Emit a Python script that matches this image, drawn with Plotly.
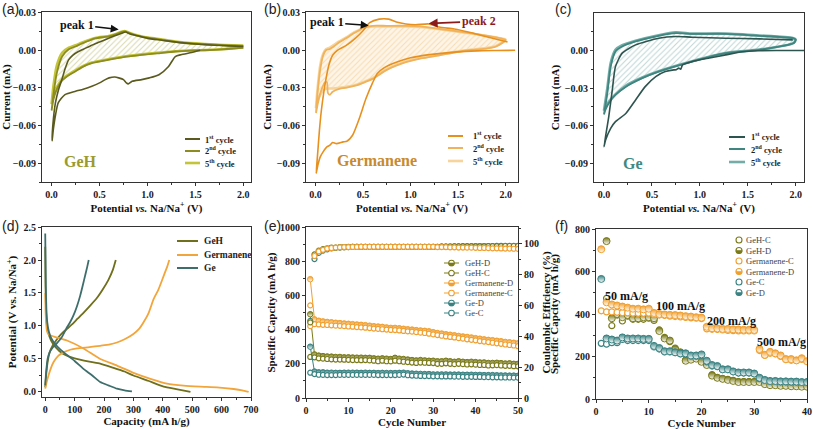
import math
import plotly.graph_objects as go

W, H = 813, 429
def fx(p): return p / W
def fy(p): return 1 - p / H

# ======================= DATA =======================
# (a) GeH cyclic voltammetry (potential V, current mA)
geh_c1_v = [1.55, 1.46, 1.35, 1.29, 1.22, 1.12, 1.02, 0.94, 0.84, 0.80, 0.78, 0.75, 0.70, 0.66, 0.60, 0.56, 0.50, 0.42, 0.33, 0.25,
            0.14, 0.07, 0.04, 0.02, 0.005, 0.015, 0.04, 0.07, 0.107, 0.14, 0.177, 0.22, 0.28, 0.35, 0.42, 0.50, 0.595, 0.66, 0.73, 0.77,
            0.82, 0.90, 1.0, 1.15, 1.3, 1.5, 1.7, 1.85, 2.0]
geh_c1_i = [0.0, -0.0018, -0.0035, -0.005, -0.0129, -0.0195, -0.022, -0.0234, -0.0247, -0.0268, -0.026, -0.0234, -0.022, -0.0213, -0.022, -0.0234, -0.026, -0.0287, -0.031, -0.0326,
            -0.0353, -0.0418, -0.052, -0.062, -0.072, -0.058, -0.042, -0.032, -0.0234, -0.015, -0.0077, -0.004, -0.001, 0.0015, 0.004, 0.0065, 0.0095, 0.0115, 0.0135, 0.0145,
            0.013, 0.0115, 0.0095, 0.008, 0.0065, 0.005, 0.004, 0.0035, 0.003]
geh_cat_v = [2.0, 1.8, 1.6, 1.46, 1.29, 1.1, 0.94, 0.75, 0.59, 0.42, 0.33, 0.25, 0.2, 0.14, 0.1, 0.07, 0.04, 0.02, 0.0]
geh_c2_cat = [0.002, 0.0008, 0.0, -0.0003, -0.001, -0.0025, -0.0037, -0.0055, -0.0077, -0.0103, -0.013, -0.0168, -0.019, -0.0221, -0.025, -0.0287, -0.034, -0.039, -0.048]
geh_c5_cat = [0.0025, 0.001, 0.0002, -0.0001, -0.0008, -0.002, -0.0033, -0.005, -0.0072, -0.0098, -0.0125, -0.016, -0.0182, -0.0212, -0.024, -0.0275, -0.031, -0.035, -0.043]
geh_an_v = [0.0, 0.02, 0.055, 0.11, 0.18, 0.25, 0.32, 0.455, 0.595, 0.68, 0.73, 0.77, 0.80, 0.87, 0.94, 1.12, 1.36, 1.6, 1.8, 2.0]
geh_c2_an = [-0.048, -0.035, -0.018, -0.005, 0.0008, 0.003, 0.0055, 0.0095, 0.011, 0.013, 0.0147, 0.015, 0.014, 0.012, 0.0108, 0.0087, 0.006, 0.0048, 0.004, 0.0035]
geh_c5_an = [-0.043, -0.028, -0.012, -0.002, 0.002, 0.004, 0.0062, 0.0098, 0.0113, 0.0132, 0.0148, 0.0152, 0.0143, 0.0123, 0.011, 0.009, 0.0063, 0.005, 0.0042, 0.0037]

# (b) Germanene cyclic voltammetry
ger_c1_v = [2.1, 1.9, 1.7, 1.46, 1.2, 1.0, 0.85, 0.72, 0.65, 0.60, 0.53, 0.46, 0.39, 0.33, 0.29, 0.22, 0.18, 0.15, 0.12, 0.08,
            0.05, 0.025, 0.007, 0.02, 0.04, 0.06, 0.09, 0.11, 0.14, 0.18, 0.23, 0.32, 0.43, 0.50, 0.57, 0.67, 0.77,
            0.85, 0.95, 1.05, 1.19, 1.3, 1.46, 1.64, 1.81, 2.02]
ger_c1_i = [0.0, -0.0002, -0.0005, -0.0015, -0.0035, -0.006, -0.0095, -0.014, -0.0185, -0.026, -0.0387, -0.0545, -0.0677, -0.0725, -0.073, -0.0744, -0.0735, -0.0757, -0.077, -0.081,
            -0.085, -0.0915, -0.098, -0.085, -0.065, -0.049, -0.032, -0.023, -0.012, -0.004, 0.0, 0.0037, 0.0103, 0.0156, 0.022, 0.0248, 0.0248,
            0.0225, 0.0209, 0.0203, 0.021, 0.0185, 0.017, 0.014, 0.0106, 0.0066]
ger_cat_v = [2.0, 1.9, 1.81, 1.64, 1.47, 1.3, 1.11, 0.95, 0.84, 0.74, 0.60, 0.50, 0.43, 0.34, 0.25, 0.18, 0.15, 0.13, 0.12, 0.10, 0.07, 0.04, 0.02, 0.005]
ger_c2_cat = [0.008, 0.003, 0.0015, 0.0002, -0.0016, -0.004, -0.0065, -0.0095, -0.0125, -0.016, -0.0228, -0.026, -0.028, -0.0295, -0.0307, -0.033, -0.0355, -0.034, -0.0254, -0.0255, -0.03, -0.037, -0.044, -0.05]
ger_c5_cat = [0.0085, 0.0035, 0.002, 0.0005, -0.0013, -0.0037, -0.006, -0.009, -0.012, -0.0155, -0.0222, -0.0255, -0.0275, -0.029, -0.030, -0.0305, -0.0305, -0.0305, -0.0305, -0.031, -0.033, -0.037, -0.041, -0.046]
ger_an_v = [0.005, 0.02, 0.05, 0.08, 0.11, 0.15, 0.2, 0.25, 0.32, 0.39, 0.45, 0.50, 0.55, 0.60, 0.75, 0.95, 1.1, 1.3, 1.46, 1.64, 1.81, 1.95, 2.0]
ger_c2_an = [-0.05, -0.035, -0.015, -0.0042, 0.0, 0.001, 0.0035, 0.0063, 0.0095, 0.013, 0.0155, 0.018, 0.0188, 0.0195, 0.0195, 0.0195, 0.019, 0.017, 0.0155, 0.0135, 0.0115, 0.0095, 0.008]
ger_c5_an = [-0.046, -0.032, -0.012, -0.003, 0.0008, 0.002, 0.0045, 0.007, 0.010, 0.0135, 0.0158, 0.0178, 0.0185, 0.019, 0.019, 0.019, 0.0185, 0.0168, 0.0152, 0.0133, 0.0113, 0.0093, 0.0085]

# (c) Ge cyclic voltammetry
ge_c1_v = [2.09, 1.8, 1.6, 1.44, 1.27, 1.10, 0.92, 0.82, 0.80, 0.78, 0.75, 0.73, 0.64, 0.54, 0.43, 0.33, 0.23, 0.12, 0.07, 0.017,
           0.0, 0.05, 0.087, 0.12, 0.19, 0.33, 0.57, 0.75, 0.92, 1.27, 1.62, 1.97]
ge_c1_i = [0.0, 0.0, -0.0002, -0.001, -0.0035, -0.006, -0.0088, -0.0114, -0.0150, -0.0140, -0.0154, -0.0154, -0.0168, -0.0208, -0.0288, -0.0394, -0.05, -0.0567, -0.062, -0.0713,
           -0.0767, -0.0527, -0.0314, -0.0128, -0.0021, 0.0045, 0.0098, 0.0112, 0.0106, 0.0098, 0.0093, 0.0085]
ge_cat_v = [2.0, 1.98, 1.62, 1.27, 0.92, 0.57, 0.40, 0.23, 0.12, 0.05, 0.017, 0.0]
ge_c2_cat = [0.0085, 0.0059, 0.0005, -0.0021, -0.0088, -0.0168, -0.022, -0.0288, -0.0354, -0.042, -0.047, -0.051]
ge_c5_cat = [0.0088, 0.006, 0.0007, -0.002, -0.0085, -0.0165, -0.0215, -0.028, -0.035, -0.041, -0.045, -0.048]
ge_an_v = [0.0, 0.035, 0.07, 0.12, 0.19, 0.33, 0.57, 0.75, 0.92, 1.27, 1.62, 1.97, 2.0]
ge_c2_an = [-0.051, -0.034, -0.0128, -0.0008, 0.0032, 0.0072, 0.0117, 0.0138, 0.0133, 0.0133, 0.0117, 0.0098, 0.0085]
ge_c5_an = [-0.048, -0.030, -0.010, 0.0005, 0.0042, 0.0078, 0.0122, 0.0145, 0.0135, 0.0135, 0.012, 0.010, 0.0088]

# (d) charge/discharge profiles (capacity mA h/g, potential V)
d_geh_dis_cap = [0, 1, 3, 6, 10, 20, 35, 60, 100, 150, 187, 230, 270, 300, 350, 403, 450, 494]
d_geh_dis_pot = [2.2, 1.6, 1.2, 1.0, 0.9, 0.78, 0.68, 0.58, 0.51, 0.46, 0.43, 0.37, 0.31, 0.25, 0.17, 0.08, 0.04, 0.0]
d_geh_chg_cap = [0, 3, 8, 15, 25, 40, 55, 75, 95, 110, 130, 153, 175, 195, 215, 230, 240]
d_geh_chg_pot = [0.07, 0.25, 0.45, 0.6, 0.7, 0.8, 0.88, 0.96, 1.04, 1.11, 1.2, 1.31, 1.42, 1.55, 1.7, 1.85, 2.0]
d_ger_dis_cap = [0, 1, 3, 6, 12, 30, 74, 130, 187, 244, 300, 358, 414, 471, 528, 584, 641, 670, 692]
d_ger_dis_pot = [1.5, 1.25, 1.05, 0.92, 0.87, 0.84, 0.78, 0.66, 0.5, 0.4, 0.29, 0.2, 0.126, 0.095, 0.08, 0.07, 0.045, 0.025, 0.0]
d_ger_chg_cap = [0, 5, 11, 20, 28, 45, 62, 85, 108, 150, 187, 220, 244, 270, 300, 320, 335, 352, 369, 385, 398, 408, 415, 422]
d_ger_chg_pot = [0.05, 0.15, 0.25, 0.37, 0.45, 0.55, 0.6, 0.64, 0.66, 0.68, 0.7, 0.72, 0.75, 0.8, 0.88, 0.96, 1.06, 1.2, 1.41, 1.55, 1.7, 1.82, 1.9, 2.0]
d_ge_dis_cap = [0, 1, 2, 4, 7, 12, 20, 35, 50, 74, 100, 130, 160, 187, 215, 244, 270, 295]
d_ge_dis_pot = [2.4, 2.0, 1.6, 1.25, 1.05, 0.92, 0.82, 0.72, 0.65, 0.56, 0.47, 0.35, 0.25, 0.15, 0.1, 0.05, 0.025, 0.01]
d_ge_chg_cap = [0, 3, 8, 15, 25, 40, 55, 74, 85, 96, 108, 119, 128, 136, 143, 148]
d_ge_chg_pot = [0.1, 0.3, 0.5, 0.6, 0.67, 0.74, 0.82, 0.98, 1.06, 1.16, 1.3, 1.46, 1.62, 1.77, 1.9, 2.0]

# (e) cycling at constant current, 50 cycles
e_cycles = list(range(1, 51))
e_geh_d = [490, 255, 248, 245, 243, 242, 240, 240, 238, 238, 237, 236, 236, 235, 235, 232, 230, 232, 230, 228, 235, 230, 228, 225, 222,
           220, 222, 220, 218, 218, 215, 215, 218, 215, 212, 215, 212, 210, 212, 210, 208, 208, 205, 205, 206, 204, 202, 203, 200, 200]
e_geh_c = [240, 238, 232, 230, 228, 226, 225, 225, 224, 223, 222, 222, 221, 222, 220, 218, 215, 218, 215, 214, 218, 215, 212, 210, 207,
           205, 207, 206, 205, 204, 200, 200, 203, 200, 198, 200, 198, 196, 197, 195, 193, 193, 190, 191, 192, 190, 188, 188, 186, 185]
e_ger_d = [695, 460, 452, 448, 445, 443, 440, 438, 436, 434, 432, 430, 428, 426, 423, 420, 418, 416, 413, 410, 410, 408, 405, 402, 400,
           397, 395, 393, 390, 385, 380, 377, 373, 370, 367, 363, 360, 357, 354, 350, 347, 343, 340, 338, 335, 332, 328, 326, 323, 320]
e_ger_c = [420, 432, 430, 428, 427, 425, 423, 422, 420, 418, 417, 415, 413, 411, 409, 406, 404, 402, 400, 398, 397, 395, 392, 390, 388,
           385, 382, 380, 376, 372, 368, 364, 360, 357, 354, 350, 347, 343, 340, 337, 333, 330, 327, 323, 320, 317, 313, 310, 307, 303]
e_ge_d = [300, 155, 150, 150, 148, 148, 147, 147, 148, 148, 148, 148, 147, 148, 147, 147, 146, 147, 146, 146, 146, 147, 148, 145, 143,
          142, 141, 140, 140, 138, 138, 138, 138, 137, 137, 137, 136, 136, 136, 135, 135, 134, 134, 134, 133, 132, 132, 131, 131, 130]
e_ge_c = [148, 140, 136, 135, 134, 134, 134, 135, 135, 135, 135, 135, 135, 135, 135, 135, 134, 134, 134, 134, 134, 135, 137, 133, 131,
          130, 129, 128, 128, 127, 127, 126, 126, 126, 125, 125, 124, 124, 124, 123, 123, 122, 122, 121, 121, 120, 120, 120, 119, 119]
e_ce_geh = [49, 93, 95.5, 96.5, 97, 97.5, 97.5, 97.8, 97.8, 98, 98, 98, 98, 98, 98, 98, 98, 98, 98, 98, 98, 98, 98, 98, 98,
            98, 98, 98, 98, 98, 98, 98, 98, 98, 98.2, 98.2, 98.2, 98.2, 98.3, 98.3, 98.3, 98.3, 98.4, 98.4, 98.4, 98.4, 98.5, 98.5, 98.5, 98.5]
e_ce_ger = [60, 92, 95, 96, 96.8, 97.2, 97.5, 97.6, 97.8, 97.8, 97.9, 97.9, 98, 98, 98, 98, 98, 98, 98, 98, 98, 98, 98, 98, 98,
            98, 98, 98, 98, 98, 97.8, 97.8, 97.8, 97.6, 97.6, 97.5, 97.5, 97.4, 97.4, 97.3, 97.2, 97.2, 97.1, 97, 97, 96.9, 96.8, 96.8, 96.7, 96.6]
e_ce_ge = [50, 90, 94, 95.5, 96.3, 97, 97.3, 97.5, 97.7, 97.8, 97.9, 98, 98, 98, 98, 98, 98, 98, 98, 98, 98, 98, 98, 98, 98,
           98, 98, 98, 98, 98, 98, 98.2, 98.2, 98.3, 98.3, 98.3, 98.4, 98.4, 98.4, 98.5, 98.5, 98.5, 98.5, 98.5, 98.6, 98.6, 98.6, 98.6, 98.6, 98.6]

# (f) rate capability, 40 cycles
f_cycles = list(range(1, 41))
f_geh_c = [None, 474, 345, 395, 367, 390, 375, 375, 375, 380, 370, 325, 290, 270, 240, 215, 185, 190, 195, 180,
           165, 115, 100, 95, 92, 88, 82, 82, 82, 82, 82, 72, 68, 66, 64, 63, 62, 61, 60, 60]
f_geh_d = [None, 743, 380, 400, 385, 395, 380, 380, 385, 385, 380, 320, 285, 275, 235, 220, 180, 185, 190, 175,
           160, 110, 100, 95, 90, 85, 80, 80, 80, 80, 80, 70, 65, 65, 62, 62, 60, 60, 58, 58]
f_ger_c = [415, 410, 410, 408, 406, 405, 404, 403, 403, 404, 398, 395, 393, 390, 388, 386, 384, 382, 380, 378,
           330, 328, 327, 325, 323, 322, 320, 320, 320, 320, 228, 205, 215, 212, 200, 185, 182, 180, 186, 176]
f_ger_d = [705, 455, 445, 440, 435, 430, 425, 425, 422, 425, 405, 400, 398, 396, 395, 393, 390, 388, 385, 383,
           340, 333, 332, 330, 330, 328, 327, 326, 326, 325, 235, 208, 222, 215, 205, 188, 188, 182, 192, 178]
f_ge_c = [262, 258, 265, 265, 280, 275, 275, 275, 275, 275, 245, 235, 222, 222, 218, 212, 210, 203, 202, 205,
          175, 155, 152, 138, 138, 128, 122, 122, 122, 118, 96, 88, 83, 83, 81, 81, 80, 80, 78, 78]
f_ge_d = [565, 285, 280, 275, 290, 285, 285, 285, 283, 283, 250, 240, 225, 225, 220, 215, 215, 205, 205, 210,
          180, 160, 155, 140, 140, 130, 125, 125, 125, 120, 100, 90, 85, 85, 83, 83, 82, 82, 80, 80]

# text labels
CYCLE_NAMES = ['1<sup>st</sup> cycle', '2<sup>nd</sup> cycle', '5<sup>th</sup> cycle']
D_NAMES = ['GeH', 'Germanene', 'Ge']
E_NAMES = ['GeH-D', 'GeH-C', 'Germanene-D', 'Germanene-C', 'Ge-D', 'Ge-C']
F_NAMES = ['GeH-C', 'GeH-D', 'Germanene-C', 'Germanene-D', 'Ge-C', 'Ge-D']
RATE_LABELS = ['50 mA/g', '100 mA/g', '200 mA/g', '500 mA/g']

# ======================= STYLE =======================
SERIF = 'Liberation Serif'
SANS = 'Liberation Sans'
TICKF = dict(family=SERIF, size=10, color='#1a1a1a', weight='bold')
TITLEF = dict(family=SERIF, size=11, color='#111111', weight='bold')
LEGF = dict(family=SERIF, size=8.5, color='#222222', weight='bold')
LEGF2 = dict(family=SERIF, size=8.5, color='#444444')

GEH_COL = ['#5a5a1e', '#8c8c20', '#c4c43a']
GER_COL = ['#e8901e', '#f0b25a', '#f6d49c']
GE_COL = ['#2e5450', '#3f8580', '#74aca7']
D_COL = ['#6f6f1c', '#f2a53a', '#3e6e6c']
S_GEH, S_GER, S_GE = '#7a7a1a', '#f0a030', '#3a8282'

fig = go.Figure()

def cv_traces(xa, ya, c1v, c1i, catv, c2cat, c5cat, anv, c2an, c5an, cols, hatch, bg):
    fig.add_trace(go.Scatter(x=catv + anv, y=c5cat + c5an, mode='lines', xaxis=xa, yaxis=ya,
                             line=dict(color=cols[2], width=2.6, shape='spline', smoothing=0.6),
                             fill='toself', fillcolor=bg,
                             fillpattern=dict(shape='/', fgcolor=hatch, size=4, solidity=0.25),
                             showlegend=False, name='5th cycle'))
    fig.add_trace(go.Scatter(x=catv + anv, y=c2cat + c2an, mode='lines', xaxis=xa, yaxis=ya,
                             line=dict(color=cols[1], width=1.8, shape='spline', smoothing=0.6),
                             showlegend=False, name='2nd cycle'))
    fig.add_trace(go.Scatter(x=c1v, y=c1i, mode='lines', xaxis=xa, yaxis=ya,
                             line=dict(color=cols[0], width=1.6, shape='spline', smoothing=0.6),
                             showlegend=False, name='1st cycle'))

cv_traces('x', 'y', geh_c1_v, geh_c1_i, geh_cat_v, geh_c2_cat, geh_c5_cat, geh_an_v, geh_c2_an, geh_c5_an,
          GEH_COL, 'rgba(160,160,50,0.8)', 'rgba(255,255,255,0)')
cv_traces('x2', 'y2', ger_c1_v, ger_c1_i, ger_cat_v, ger_c2_cat, ger_c5_cat, ger_an_v, ger_c2_an, ger_c5_an,
          GER_COL, 'rgba(240,180,100,0.8)', 'rgba(252,238,215,0.6)')
cv_traces('x3', 'y3', ge_c1_v, ge_c1_i, ge_cat_v, ge_c2_cat, ge_c5_cat, ge_an_v, ge_c2_an, ge_c5_an,
          GE_COL, 'rgba(90,150,145,0.8)', 'rgba(255,255,255,0)')

# (d)
for name, col, dc, dp, cc, cp in [
        (D_NAMES[0], D_COL[0], d_geh_dis_cap, d_geh_dis_pot, d_geh_chg_cap, d_geh_chg_pot),
        (D_NAMES[1], D_COL[1], d_ger_dis_cap, d_ger_dis_pot, d_ger_chg_cap, d_ger_chg_pot),
        (D_NAMES[2], D_COL[2], d_ge_dis_cap, d_ge_dis_pot, d_ge_chg_cap, d_ge_chg_pot)]:
    fig.add_trace(go.Scatter(x=dc + [None] + cc, y=dp + [None] + cp, mode='lines', xaxis='x4', yaxis='y4',
                             line=dict(color=col, width=1.8, shape='spline', smoothing=0.5),
                             name=name, showlegend=False))

def half_marker(col, size):
    return dict(symbol='circle', size=size, color=col, gradient=dict(type='vertical', color='white'),
                line=dict(color=col, width=1))
def open_marker(col, size):
    return dict(symbol='circle', size=size, color='white', line=dict(color=col, width=1.2))

# (e) coulombic efficiency (right axis)
for ce, col in [(e_ce_ge, S_GE), (e_ce_geh, S_GEH), (e_ce_ger, S_GER)]:
    fig.add_trace(go.Scatter(x=e_cycles, y=ce, mode='markers', xaxis='x5', yaxis='y7',
                             marker=open_marker(col, 5), showlegend=False, name='CE'))
# (e) capacities
for name, vals, col, kind in [
        (E_NAMES[0], e_geh_d, S_GEH, 'half'), (E_NAMES[1], e_geh_c, S_GEH, 'open'),
        (E_NAMES[2], e_ger_d, S_GER, 'half'), (E_NAMES[3], e_ger_c, S_GER, 'open'),
        (E_NAMES[4], e_ge_d, S_GE, 'half'), (E_NAMES[5], e_ge_c, S_GE, 'open')]:
    mk = half_marker(col, 5.5) if kind == 'half' else open_marker(col, 5)
    fig.add_trace(go.Scatter(x=e_cycles, y=vals, mode='lines+markers', xaxis='x5', yaxis='y5',
                             line=dict(color=col, width=1), marker=mk, name=name, showlegend=False))

# (f)
for name, vals, col, kind in [
        (F_NAMES[0], f_geh_c, S_GEH, 'open'), (F_NAMES[1], f_geh_d, S_GEH, 'half'),
        (F_NAMES[2], f_ger_c, S_GER, 'open'), (F_NAMES[3], f_ger_d, S_GER, 'half'),
        (F_NAMES[4], f_ge_c, S_GE, 'open'), (F_NAMES[5], f_ge_d, S_GE, 'half')]:
    mk = half_marker(col, 7) if kind == 'half' else open_marker(col, 6)
    fig.add_trace(go.Scatter(x=f_cycles, y=vals, mode='markers', xaxis='x6', yaxis='y6',
                             marker=mk, name=name, showlegend=False))

# ======================= AXES =======================
def axis(domain, rng, anchor, dtick, fmt, minor, title=None, standoff=4, side=None, overlaying=None, mirror=True):
    d = dict(domain=domain, range=rng, anchor=anchor, dtick=dtick, tick0=0, tickformat=fmt, automargin=False,
             ticks='outside', ticklen=3, tickwidth=1, tickcolor='#333', showline=True,
             linecolor='#333', linewidth=1, mirror=mirror, showgrid=False, zeroline=False,
             tickfont=TICKF, minor=dict(dtick=minor, tick0=0, ticks='outside', ticklen=2, tickcolor='#333', showgrid=False))
    if title:
        d['title'] = dict(text=title, font=TITLEF, standoff=standoff)
    if side:
        d['side'] = side
    if overlaying:
        d['overlaying'] = overlaying
    return d

XA = [fx(42), fx(251)]
XB = [fx(306), fx(518)]
XC = [fx(594), fx(804)]
XF = [fx(596), fx(807)]
YTOP = [fy(182), fy(12)]
YTOPC = [fy(182), fy(13)]
YD = [fy(397), fy(227)]
YE = [fy(398), fy(227)]
YF = [fy(399), fy(229)]

POT = 'Potential <i>vs.</i> Na/Na<sup>+</sup> (V)'
fig.update_layout(
    xaxis=axis(XA, [-0.1, 2.08], 'y', 0.5, '.1f', 0.25, POT, 0),
    yaxis=axis(YTOP, [-0.105, 0.0305], 'x', 0.03, '.2f', 0.015, 'Current (mA)', 2),
    xaxis2=axis(XB, [-0.1, 2.13], 'y2', 0.5, '.1f', 0.25, POT, 0),
    yaxis2=axis(YTOP, [-0.105, 0.0305], 'x2', 0.03, '.2f', 0.015, 'Current (mA)', 2),
    xaxis3=axis(XC, [-0.104, 2.087], 'y3', 0.5, '.1f', 0.25, POT, 0),
    yaxis3=axis(YTOPC, [-0.1048, 0.0299], 'x3', 0.03, '.2f', 0.015, 'Current (mA)', 2),
    xaxis4=axis(XA, [-11, 700], 'y4', 100, 'd', 50, 'Capacity (mA h/g)', 0),
    yaxis4=axis(YD, [-0.076, 2.5], 'x4', 0.5, '.1f', 0.25, 'Potential (V vs. Na/Na<sup>+</sup>)', 4),
    xaxis5=axis(XB, [0, 50], 'y5', 10, 'd', 5, 'Cycle Number', 0),
    yaxis5=axis(YE, [0, 1000], 'x5', 200, 'd', 100, 'Specific Capcity (mA h/g)', 2),
    yaxis7=axis(YE, [0, 110.8], 'x5', 20, 'd', 10, 'Coulombic Efficiency (%)', 4, side='right', overlaying='y5', mirror=False),
    xaxis6=axis(XF, [0, 40], 'y6', 10, 'd', 5, 'Cycle Number', 0),
    yaxis6=axis(YF, [0, 800], 'x6', 200, 'd', 100, 'Specific Capcity (mA h/g)', 14),
)

# ======================= LEGENDS / LABELS =======================
shapes = []
annotations = []

def leg_line(x0, x1, y, color, width=2.5):
    shapes.append(dict(type='line', xref='paper', yref='paper', x0=fx(x0), x1=fx(x1), y0=fy(y), y1=fy(y),
                       line=dict(color=color, width=width)))

def leg_marker(xc, y, color, kind, r):
    base = dict(xref='paper', yref='paper', xsizemode='pixel', ysizemode='pixel', xanchor=fx(xc), yanchor=fy(y))
    shapes.append(dict(type='circle', x0=-r, x1=r, y0=-r, y1=r, fillcolor='white',
                       line=dict(color=color, width=1.1), **base))
    if kind == 'half':
        pts = [(r * math.cos(math.pi + k * math.pi / 10), r * math.sin(math.pi + k * math.pi / 10)) for k in range(11)]
        path = 'M ' + ' L '.join('%.2f,%.2f' % p for p in pts) + ' Z'
        shapes.append(dict(type='path', path=path, fillcolor=color, line=dict(color=color, width=0.6), **base))

def text(x, y, s, font, xanchor='left', yanchor='middle', **kw):
    annotations.append(dict(xref='paper', yref='paper', x=fx(x), y=fy(y), xanchor=xanchor, yanchor=yanchor,
                            text=s, showarrow=False, font=font, **kw))

# CV legends
for (lx0, lx1, tx, ys, cols) in [(185, 200, 203, [139, 151, 163], GEH_COL),
                                 (448, 463, 471, [136, 148, 161], GER_COL),
                                 (729, 745, 749, [137, 149, 162], GE_COL)]:
    for name, y, c, w in zip(CYCLE_NAMES, ys, cols, [2, 2, 2.6]):
        leg_line(lx0, lx1, y, c, w)
        text(tx, y, name, LEGF)

# (d) legend
for name, y, c in zip(D_NAMES, [241, 255, 268], D_COL):
    leg_line(177, 198, y, c, 2)
    text(202, y, name, dict(family=SERIF, size=9.5, color='#222', weight='bold'))

# (e) legend
for name, y, c, k in zip(E_NAMES, [263, 273, 283, 293, 303, 313],
                         [S_GEH, S_GEH, S_GER, S_GER, S_GE, S_GE], ['half', 'open'] * 3):
    leg_line(444, 459, y, c, 1)
    leg_marker(451.5, y, c, k, 2.8)
    text(463, y, name, LEGF2)

# (f) legend
for name, y, c, k in zip(F_NAMES, [240, 250.5, 261, 271.5, 282, 292.5],
                         [S_GEH, S_GEH, S_GER, S_GER, S_GE, S_GE], ['open', 'half'] * 3):
    leg_marker(739, y, c, k, 3)
    text(744, y, name, LEGF2)

# panel letters
PF = dict(family=SANS, size=14, color='#222')
for lab, x, y in [('(a)', 0, 9), ('(b)', 262, 9), ('(c)', 553, 9),
                  ('(d)', 0, 226), ('(e)', 262, 226), ('(f)', 553, 226)]:
    text(x, y, lab, PF)

# material labels
text(80, 161, 'GeH', dict(family=SERIF, size=16, color='#9c9a2c', weight='bold'), xanchor='center')
text(377, 160, 'Germanene', dict(family=SERIF, size=16, color='#c98a2e', weight='bold'), xanchor='center')
text(633, 163, 'Ge', dict(family=SERIF, size=16, color='#3d8a85', weight='bold'), xanchor='center')

# rate labels in (f)
RF = dict(family=SERIF, size=12, color='#111', weight='bold')
for lab, x, y in zip(RATE_LABELS, [626, 680, 731, 781], [296, 306, 321, 342]):
    text(x, y, lab, RF, xanchor='center')

# peak arrows
PKF = dict(family=SERIF, size=12, color='#111', weight='bold')
annotations.append(dict(xref='x', yref='y', x=0.70, y=0.0165, ax=-42, ay=-5,
                        text='peak 1', font=PKF, showarrow=True, arrowhead=2, arrowsize=1, arrowwidth=1.6, arrowcolor='#111'))
annotations.append(dict(xref='x2', yref='y2', x=0.56, y=0.0198, ax=-42, ay=-3,
                        text='peak 1', font=PKF, showarrow=True, arrowhead=2, arrowsize=1, arrowwidth=1.6, arrowcolor='#111'))
annotations.append(dict(xref='x2', yref='y2', x=1.19, y=0.0214, ax=50, ay=-2,
                        text='peak 2', font=dict(family=SERIF, size=12, color='#8b1a1a', weight='bold'),
                        showarrow=True, arrowhead=2, arrowsize=1, arrowwidth=1.8, arrowcolor='#8b1a1a'))

fig.update_layout(shapes=shapes, annotations=annotations,
                  width=W, height=H, margin=dict(l=0, r=0, t=0, b=0, autoexpand=False),
                  paper_bgcolor='white', plot_bgcolor='white', showlegend=False)

fig.write_html('out.html', config={'displayModeBar': False},
               post_script="document.body.style.margin='0';document.body.style.overflow='hidden';")
